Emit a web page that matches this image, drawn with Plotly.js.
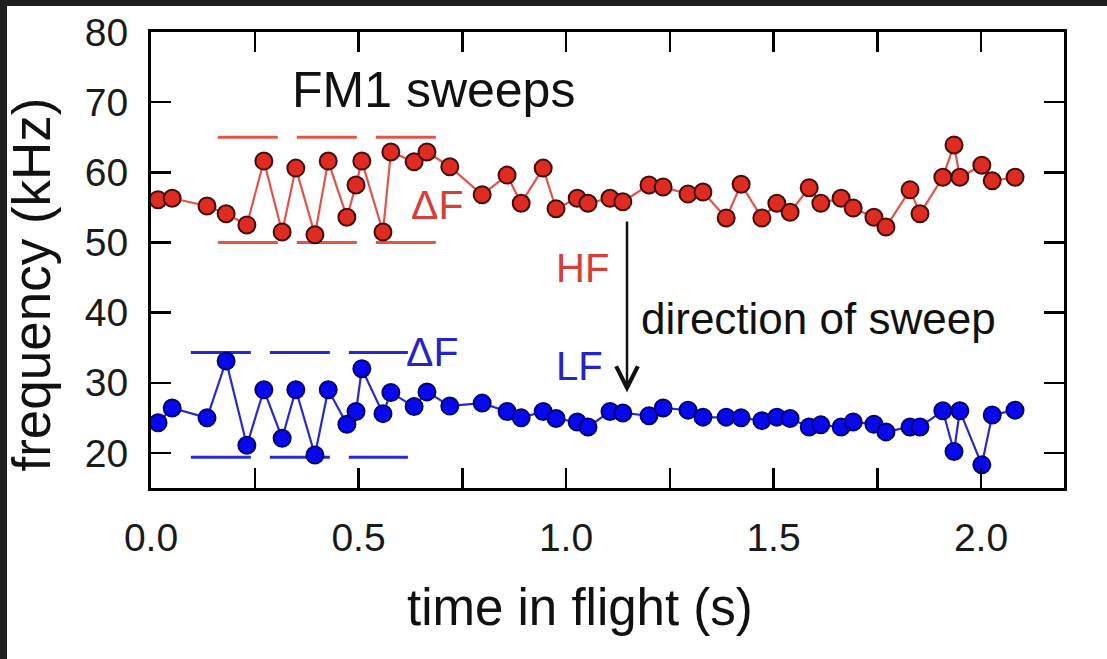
<!DOCTYPE html>
<html>
<head>
<meta charset="utf-8">
<script src="https://cdn.plot.ly/plotly-3.0.1.min.js"></script>
<style>
  html, body { margin: 0; padding: 0; background: #ffffff; overflow: hidden; }
  #chart { position: fixed; left: 0; top: 0; width: 1107px; height: 659px; background: #ffffff; }
  #topband { position: fixed; left: 0; top: 0; width: 1107px; height: 6px; background: #1f1f1f; z-index: 5; }
  #leftband { position: fixed; left: 0; top: 0; width: 7px; height: 659px; background: #1f1f1f; z-index: 5; }
</style>
</head>
<body>
<div id="chart"></div>
<div id="topband"></div>
<div id="leftband"></div>
<script>
// ---- data ----
const timeS = [0.017,0.051,0.135,0.181,0.231,0.272,0.316,0.349,0.395,0.427,
               0.472,0.494,0.508,0.559,0.578,0.634,0.665,0.720,0.798,0.858,
               0.892,0.945,0.976,1.027,1.053,1.106,1.137,1.200,1.234,1.294,
               1.330,1.386,1.422,1.472,1.508,1.540,1.586,1.614,1.663,1.692,
               1.742,1.771,1.829,1.853,1.908,1.935,1.949,2.002,2.027,2.082];

const hfKHz = [56.1,56.3,55.2,54.1,52.5,61.6,51.5,60.6,51.1,61.6,
               53.6,58.2,61.6,51.5,62.9,61.5,62.9,60.8,56.8,59.6,
               55.6,60.6,54.8,56.3,55.6,56.3,55.8,58.2,57.9,56.9,
               57.2,53.5,58.3,53.5,55.6,54.3,57.8,55.6,56.3,54.9,
               53.6,52.2,57.5,54.1,59.3,63.9,59.3,61.0,58.8,59.3];

const lfKHz = [24.3,26.4,25.0,33.1,21.1,29.0,22.1,29.0,19.7,29.0,
               24.1,25.9,32.0,25.6,28.6,26.6,28.7,26.7,27.1,25.9,
               25.0,25.9,24.9,24.4,23.7,25.9,25.7,25.3,26.4,26.1,
               25.1,25.1,25.0,24.6,25.1,24.9,23.7,24.0,23.7,24.4,
               24.1,23.0,23.7,23.7,26.0,20.2,26.0,18.3,25.4,26.1];

// delta-F range bands (time span, lower and upper frequency)
const hfBandTime = [0.161, 0.690];
const hfBandKHz  = [50, 65];
const lfBandTime = [0.096, 0.619];
const lfBandKHz  = [19.4, 34.3];

// axis ticks and titles
const xTickVals = [0,0.25,0.5,0.75,1.0,1.25,1.5,1.75,2.0];
const xTickText = ['0.0','','0.5','','1.0','','1.5','','2.0'];
const yTickVals = [20,30,40,50,60,70,80];
const xTitle = 'time in flight (s)';
const yTitle = 'frequency (kHz)';

// ---- styling ----
const FONT = '"Liberation Sans", Arial, Helvetica, sans-serif';
const RED = 'rgb(222,44,34)', RED_EDGE = 'rgb(70,12,10)', RED_LINE = 'rgb(226,84,74)', RED_TEXT = 'rgb(214,62,56)';
const BLUE = 'rgb(8,8,236)', BLUE_EDGE = 'rgb(0,0,120)', BLUE_LINE = 'rgb(40,40,210)', BLUE_TEXT = 'rgb(36,36,200)';

function bandTrace(tr, f, color) {
  return {
    x: [tr[0], tr[1]], y: [f, f], mode: 'lines', hoverinfo: 'skip',
    line: { color: color, width: 3, dash: '60px,19px' }, showlegend: false
  };
}

const traces = [
  bandTrace(hfBandTime, hfBandKHz[0], RED_LINE),
  bandTrace(hfBandTime, hfBandKHz[1], RED_LINE),
  bandTrace(lfBandTime, lfBandKHz[0], BLUE_LINE),
  bandTrace(lfBandTime, lfBandKHz[1], BLUE_LINE),
  {
    x: timeS, y: hfKHz, mode: 'lines+markers', name: 'HF', showlegend: false,
    line: { color: RED_LINE, width: 2.2 },
    marker: { color: RED, size: 17, line: { color: RED_EDGE, width: 2 } }
  },
  {
    x: timeS, y: lfKHz, mode: 'lines+markers', name: 'LF', showlegend: false,
    line: { color: BLUE_LINE, width: 2.2 },
    marker: { color: BLUE, size: 17, line: { color: BLUE_EDGE, width: 2 } }
  }
];

const axisCommon = {
  showline: true, linecolor: '#000', linewidth: 3, mirror: 'ticks',
  ticks: 'inside', ticklen: 20, tickwidth: 2.5, tickcolor: '#000',
  showgrid: false, zeroline: false,
  tickfont: { family: FONT, size: 39, color: '#1a1a1a' }
};

const layout = {
  width: 1107, height: 659,
  margin: { l: 151, r: 43, t: 32, b: 171 },
  paper_bgcolor: '#ffffff', plot_bgcolor: '#ffffff',
  font: { family: FONT, color: '#111' },
  showlegend: false,
  xaxis: Object.assign({}, axisCommon, {
    range: [0, 2.2], tickmode: 'array', tickvals: xTickVals, ticktext: xTickText,
    ticklabelstandoff: 13
  }),
  yaxis: Object.assign({}, axisCommon, {
    range: [15, 80], tickmode: 'array', tickvals: yTickVals,
    ticklabelstandoff: 12
  }),
  annotations: [
    { x: 0.470, y: -0.262, xref: 'paper', yref: 'paper', text: xTitle, showarrow: false,
      xanchor: 'center', yanchor: 'middle', font: { family: FONT, size: 51, color: '#111' } },
    { x: -0.131, y: 0.447, xref: 'paper', yref: 'paper', text: yTitle, showarrow: false, textangle: -90,
      xanchor: 'center', yanchor: 'middle', font: { family: FONT, size: 53, color: '#111' } },
    { x: 0.335, y: 71.7, xref: 'x', yref: 'y', text: 'FM1 sweeps', showarrow: false, xanchor: 'left', yanchor: 'middle',
      font: { family: FONT, size: 50, color: '#111' } },
    { x: 0.621, y: 55.3, xref: 'x', yref: 'y', text: 'ΔF', showarrow: false, xanchor: 'left', yanchor: 'middle',
      font: { family: FONT, size: 41, color: RED_TEXT } },
    { x: 0.972, y: 46.4, xref: 'x', yref: 'y', text: 'HF', showarrow: false, xanchor: 'left', yanchor: 'middle',
      font: { family: FONT, size: 40, color: RED_TEXT } },
    { x: 1.176, y: 39.2, xref: 'x', yref: 'y', text: 'direction of sweep', showarrow: false, xanchor: 'left', yanchor: 'middle',
      font: { family: FONT, size: 44, color: '#111' } },
    { x: 0.972, y: 32.4, xref: 'x', yref: 'y', text: 'LF', showarrow: false, xanchor: 'left', yanchor: 'middle',
      font: { family: FONT, size: 40, color: BLUE_TEXT } },
    { x: 0.609, y: 34.4, xref: 'x', yref: 'y', text: 'ΔF', showarrow: false, xanchor: 'left', yanchor: 'middle',
      font: { family: FONT, size: 41, color: BLUE_TEXT } },
    { x: 1.147, y: 28.6, xref: 'x', yref: 'y', ax: 1.147, ay: 53.2, axref: 'x', ayref: 'y',
      text: '', showarrow: true, arrowhead: 5, arrowsize: 1.7, arrowwidth: 2.5, arrowcolor: '#111' }
  ]
};

Plotly.newPlot('chart', traces, layout, { displayModeBar: false, staticPlot: true });
</script>
</body>
</html>
